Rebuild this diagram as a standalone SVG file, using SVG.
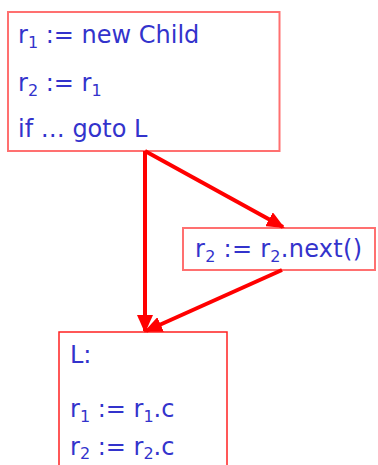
<svg xmlns="http://www.w3.org/2000/svg" width="378" height="465" viewBox="0 0 378 465">
<defs>
<style>
.box{fill:#fff;stroke:#ff7070;stroke-width:2}
.box3{fill:#fff;stroke:#ff2020;stroke-width:1.5}
.t{font-family:"DejaVu Sans","Open Sans",sans-serif;font-size:24px;fill:#3333cc}
.s{font-size:16px}
.e{stroke:#ff0000;stroke-width:4;fill:none}
</style>
<marker id="ah" markerUnits="userSpaceOnUse" markerWidth="18" markerHeight="16" viewBox="0 0 18 16" refX="16" refY="8" orient="auto">
<path d="M0,0 L18,8 L0,16 z" fill="#ff0000"/>
</marker>
</defs>
<g id="n1">
<rect class="box" x="8" y="12" width="271.5" height="139"/>
<text class="t" x="18" y="43">r<tspan class="s" dy="5">1</tspan><tspan dy="-5"> := new Child</tspan></text>
<text class="t" x="18" y="91">r<tspan class="s" dy="5">2</tspan><tspan dy="-5"> := r</tspan><tspan class="s" dy="5">1</tspan></text>
<text class="t" x="18" y="137">if … goto L</text>
</g>
<g id="n2">
<rect class="box" x="183" y="228" width="192" height="42"/>
<text class="t" x="195" y="257" textLength="167">r<tspan class="s" dy="5">2</tspan><tspan dy="-5"> := r</tspan><tspan class="s" dy="5">2</tspan><tspan dy="-5">.next()</tspan></text>
</g>
<g id="n3">
<rect class="box3" x="59" y="332" width="168" height="140"/>
<text class="t" x="70" y="363">L:</text>
<text class="t" x="70" y="417">r<tspan class="s" dy="5">1</tspan><tspan dy="-5"> := r</tspan><tspan class="s" dy="5">1</tspan><tspan dy="-5">.c</tspan></text>
<text class="t" x="70" y="455">r<tspan class="s" dy="4">2</tspan><tspan dy="-4"> := r</tspan><tspan class="s" dy="4">2</tspan><tspan dy="-4">.c</tspan></text>
</g>
<g id="edges">
<line class="e" x1="145" y1="151" x2="145" y2="331" marker-end="url(#ah)"/>
<line class="e" x1="145" y1="151" x2="283" y2="227" marker-end="url(#ah)"/>
<line class="e" x1="282" y1="270" x2="146" y2="331" marker-end="url(#ah)"/>
</g>
</svg>
